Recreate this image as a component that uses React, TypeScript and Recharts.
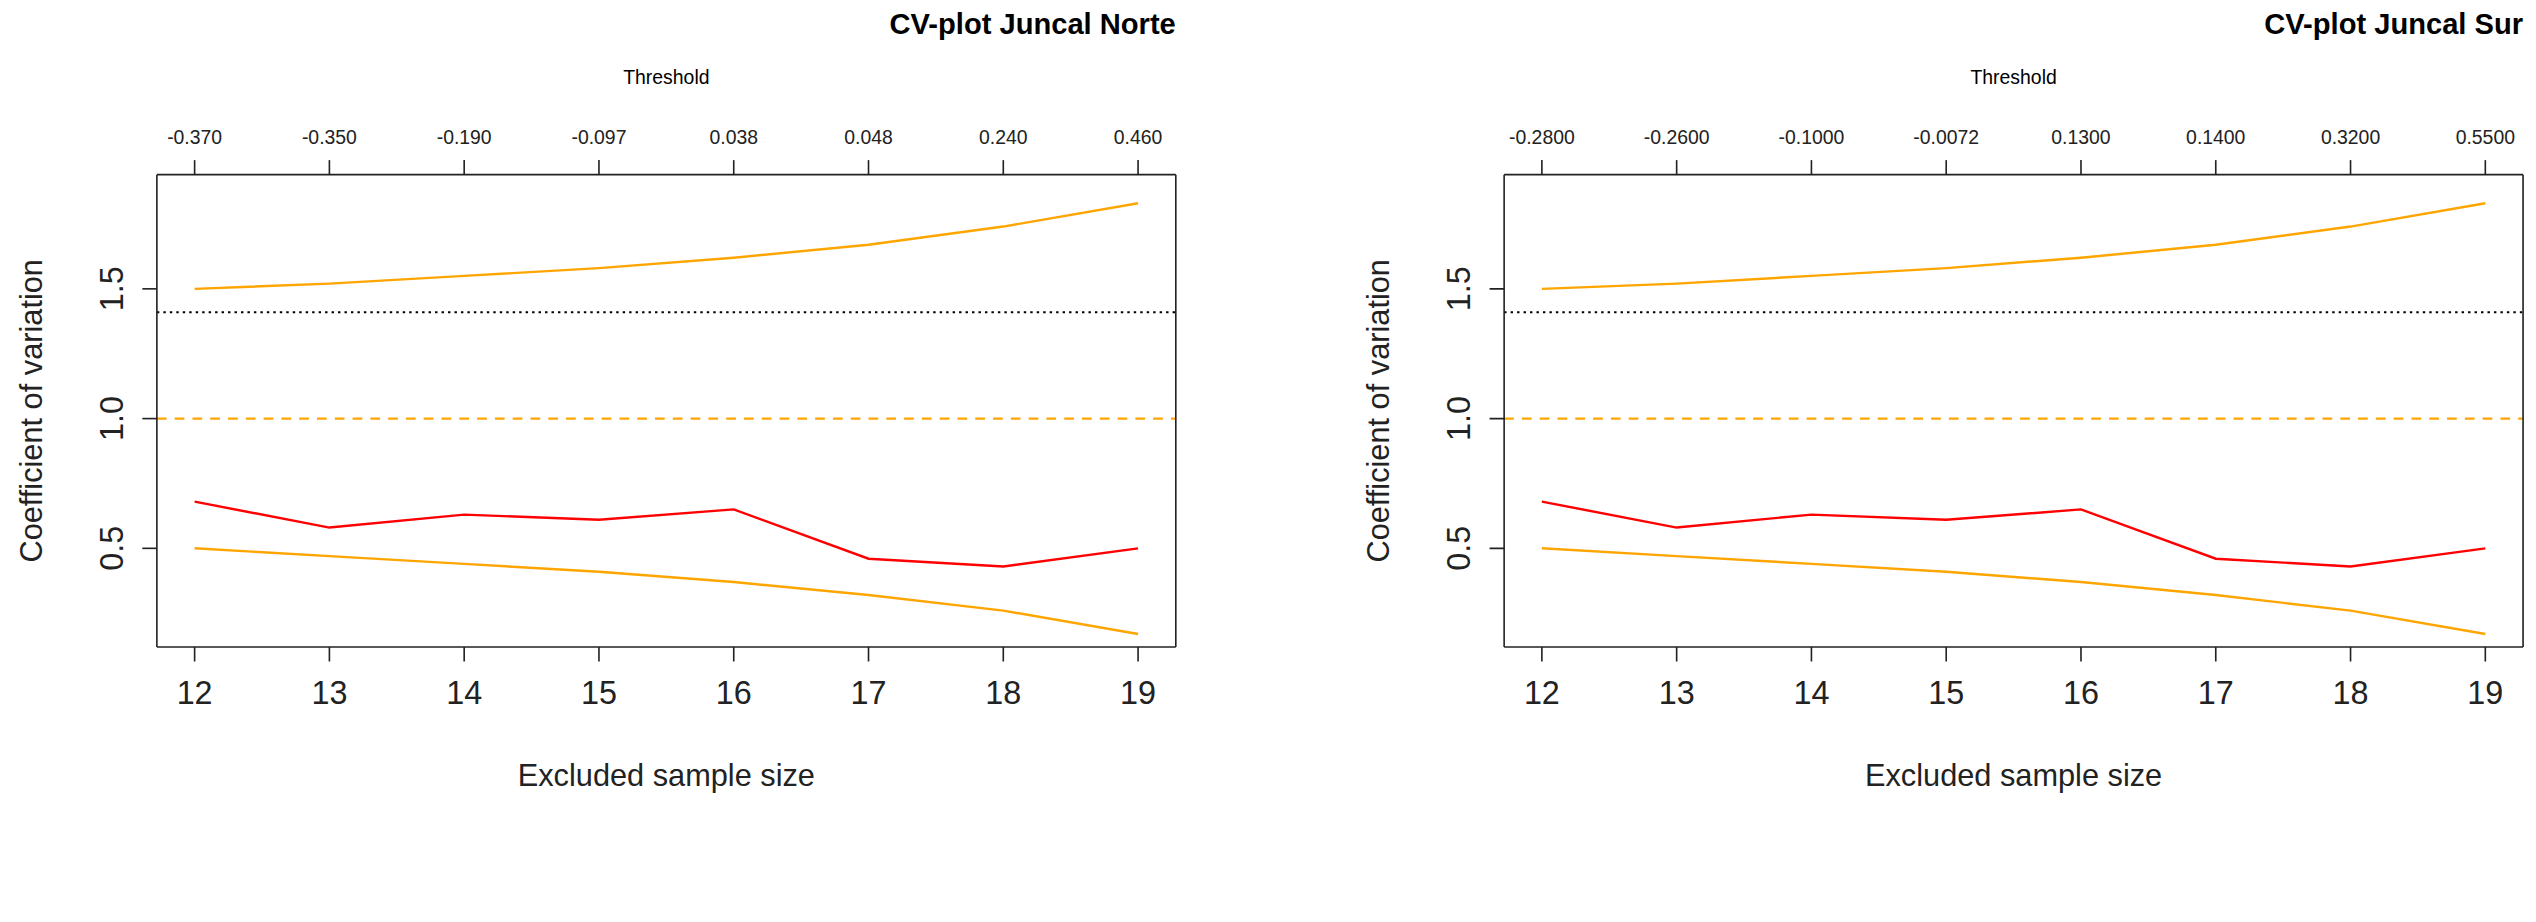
import React from "react";
import { LineChart, Line, XAxis, YAxis, ReferenceLine } from "recharts";

const sizes = [12, 13, 14, 15, 16, 17, 18, 19];
const upper = [1.5, 1.52, 1.55, 1.58, 1.62, 1.67, 1.74, 1.83];
const cv = [0.68, 0.58, 0.63, 0.61, 0.65, 0.46, 0.43, 0.5];
const lower = [0.5, 0.47, 0.44, 0.41, 0.37, 0.32, 0.26, 0.17];
const thresholdsNorte = ["-0.370", "-0.350", "-0.190", "-0.097", "0.038", "0.048", "0.240", "0.460"];
const thresholdsSur = ["-0.2800", "-0.2600", "-0.1000", "-0.0072", "0.1300", "0.1400", "0.3200", "0.5500"];
const yTicks = [0.5, 1.0, 1.5];

const data = sizes.map((s, i) => ({ s, upper: upper[i], cv: cv[i], lower: lower[i] }));

const FONT = "Liberation Sans, Arial, sans-serif";
const SCALE = 2536 / 1568;

const YTick = (props: any) => {
  const { x, y, payload } = props;
  const xx = x - 10;
  return (
    <text x={xx} y={y} transform={`rotate(-90 ${xx} ${y})`} textAnchor="middle" fontSize={20} fill="#222" fontFamily={FONT}>
      {payload.value.toFixed(1)}
    </text>
  );
};

function Panel({ left, title, thr, letter }: { left: number; title: string; thr: string[]; letter: string }) {
  return (
    <div style={{ position: "absolute", left, top: 0, width: 760, height: 570 }}>
      <LineChart width={760} height={570} data={data} margin={{ left: 57, right: 32, top: 58, bottom: 130 }}>
        <XAxis xAxisId="b" dataKey="s" type="number" domain={[11.72, 19.28]} ticks={sizes} orientation="bottom" height={40}
          stroke="#222" tickSize={9} tick={{ fontSize: 20, fill: "#222", fontFamily: FONT }} tickMargin={12} />
        <XAxis xAxisId="t" dataKey="s" type="number" domain={[11.72, 19.28]} ticks={sizes} orientation="top" height={50}
          stroke="#222" tickSize={9} tick={{ fontSize: 12, fill: "#222", fontFamily: FONT }} tickMargin={10}
          tickFormatter={(v: number) => thr[sizes.indexOf(v)]} />
        <YAxis yAxisId="l" domain={[0.12, 1.94]} ticks={yTicks} width={40} stroke="#222" tickSize={9} tick={<YTick />} />
        <YAxis yAxisId="r" orientation="right" domain={[0.12, 1.94]} width={1} stroke="#222" tick={false} tickLine={false} />
        <ReferenceLine xAxisId="b" yAxisId="l" y={1.41} stroke="#000" strokeDasharray="1.5 2.5" strokeWidth={1.3} />
        <ReferenceLine xAxisId="b" yAxisId="l" y={1.0} stroke="#FFA500" strokeDasharray="6 5" strokeWidth={1.3} />
        <Line xAxisId="b" yAxisId="l" dataKey="upper" stroke="#FFA500" strokeWidth={1.5} dot={false} isAnimationActive={false} />
        <Line xAxisId="b" yAxisId="l" dataKey="cv" stroke="#FF0000" strokeWidth={1.5} dot={false} isAnimationActive={false} />
        <Line xAxisId="b" yAxisId="l" dataKey="lower" stroke="#FFA500" strokeWidth={1.5} dot={false} isAnimationActive={false} />
      </LineChart>
      <div style={{ position: "absolute", right: 33, top: 5, fontFamily: FONT, fontWeight: "bold", fontSize: 18, whiteSpace: "nowrap" }}>{title}</div>
      <div style={{ position: "absolute", left: 412, top: 41, transform: "translateX(-50%)", fontFamily: FONT, fontSize: 12 }}>Threshold</div>
      <div style={{ position: "absolute", left: 412, top: 469, transform: "translateX(-50%)", fontFamily: FONT, fontSize: 19, whiteSpace: "nowrap", color: "#222" }}>Excluded sample size</div>
      <div style={{ position: "absolute", left: 20, top: 254, transform: "translate(-50%,-50%) rotate(-90deg)", fontFamily: FONT, fontSize: 19, whiteSpace: "nowrap", color: "#222" }}>Coefficient of variation</div>
      <div style={{ position: "absolute", left: 378, top: 588, transform: "translateX(-50%)", fontFamily: "Liberation Serif, serif", fontSize: 25 }}>
        (<b>{letter}</b>)
      </div>
    </div>
  );
}

export default function App() {
  return (
    <div style={{ position: "absolute", left: 0, top: 0, width: 2536, height: 922, background: "#fff", overflow: "hidden" }}>
      <div style={{ position: "absolute", left: 0, top: 0, width: 1568, height: 570, transform: `scale(${SCALE})`, transformOrigin: "0 0" }}>
        <Panel left={0} title="CV-plot Juncal Norte" thr={thresholdsNorte} letter="a" />
        <Panel left={833} title="CV-plot Juncal Sur" thr={thresholdsSur} letter="b" />
      </div>
    </div>
  );
}
